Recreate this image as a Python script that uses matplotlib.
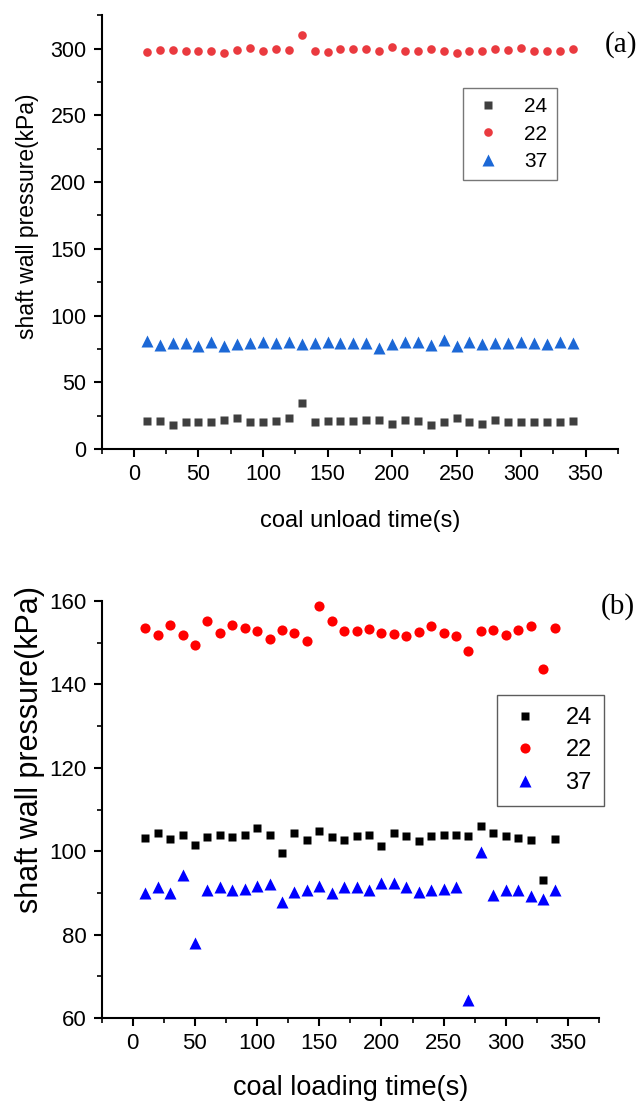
import numpy as np
import matplotlib.pyplot as plt
from matplotlib.ticker import MultipleLocator

plt.rcParams['font.family'] = ['Liberation Sans', 'DejaVu Sans']

# time axis (s), shared by both panels
time_s = list(range(10, 350, 10))

# (a) coal unloading
unload_24 = [20.8, 21.0, 18.3, 20.0, 20.5, 20.5, 21.5, 23.5, 20.3, 20.3, 21.3, 23.0, 34.5, 20.5, 21.0, 21.0, 21.0,
             21.5, 21.5, 19.0, 22.0, 21.0, 18.0, 20.5, 23.0, 20.0, 19.0, 22.0, 20.3, 20.5, 20.0, 20.3, 20.3, 21.3]
unload_22 = [297.5, 299.0, 298.8, 297.8, 298.3, 298.3, 296.5, 299.0, 300.5, 298.3, 299.5, 298.8, 310.5, 297.9, 297.5, 299.5, 299.5,
             299.8, 298.3, 301.5, 298.5, 297.8, 299.5, 297.8, 296.5, 297.8, 297.9, 300.0, 299.0, 300.5, 298.3, 297.8, 297.9, 300.0]
unload_37 = [81.0, 78.0, 79.3, 79.3, 77.5, 80.0, 77.5, 78.8, 79.3, 79.8, 79.3, 80.5, 78.5, 79.3, 79.8, 79.3, 79.3,
             79.3, 75.5, 78.8, 80.3, 79.8, 78.0, 81.3, 77.0, 79.8, 78.8, 79.3, 79.3, 80.3, 79.3, 78.8, 80.3, 79.3]

# (b) coal loading
load_24 = [103.1, 104.3, 103.0, 104.0, 101.6, 103.4, 104.0, 103.4, 104.0, 105.6, 103.9, 99.6, 104.3, 102.6, 104.9, 103.4, 102.6,
           103.6, 103.9, 101.2, 104.4, 103.6, 102.4, 103.6, 104.0, 104.0, 103.6, 106.0, 104.3, 103.6, 103.1, 102.6, 93.2, 103.0]
load_22 = [153.5, 151.9, 154.2, 151.9, 149.4, 155.2, 152.4, 154.2, 153.5, 152.8, 150.8, 153.0, 152.4, 150.3, 158.8, 155.2, 152.8,
           152.8, 153.2, 152.4, 152.2, 151.7, 152.6, 153.9, 152.4, 151.5, 148.0, 152.8, 153.0, 151.8, 153.0, 153.9, 143.8, 153.6]
load_37 = [90.0, 91.4, 90.0, 94.2, 78.0, 90.8, 91.4, 90.8, 91.0, 91.6, 92.2, 87.8, 90.2, 90.6, 91.6, 90.0, 91.4,
           91.4, 90.6, 92.4, 92.4, 91.4, 90.2, 90.6, 91.0, 91.4, 64.4, 99.8, 89.4, 90.6, 90.6, 89.2, 88.6, 90.6]

series_names = ['24', '22', '37']


def style_axes(ax, tick_size):
    ax.spines['top'].set_visible(False)
    ax.spines['right'].set_visible(False)
    for s in ('left', 'bottom'):
        ax.spines[s].set_linewidth(1.5)
    ax.tick_params(which='major', direction='out', length=6, width=1.5, labelsize=tick_size, pad=5)
    ax.tick_params(which='minor', direction='out', length=3.5, width=1.2)
    ax.xaxis.set_major_locator(MultipleLocator(50))
    ax.xaxis.set_minor_locator(MultipleLocator(25))
    ax.set_xlim(-25, 375)


fig = plt.figure(figsize=(6.42, 11.01), dpi=100)

# panel (a)
ax1 = fig.add_axes([0.1584, 0.5922, 0.804, 0.394])
ax1.plot(time_s, unload_24, 's', color='#3f3f3f', ms=5.3, mec='none', label=series_names[0])
ax1.plot(time_s, unload_22, 'o', color='#ea3a3f', ms=6.2, mec='none', label=series_names[1])
ax1.plot(time_s, unload_37, '^', color='#1c68d6', ms=8, mec='none', label=series_names[2])
style_axes(ax1, 15.5)
ax1.set_ylim(0, 325)
ax1.yaxis.set_major_locator(MultipleLocator(50))
ax1.yaxis.set_minor_locator(MultipleLocator(25))
ax1.set_xlabel('coal unload time(s)', fontsize=17, labelpad=18)
ax1.set_ylabel('shaft wall pressure(kPa)', fontsize=16.5)
ax1.yaxis.set_label_coords(-0.122, 0.537)
leg1 = ax1.legend(loc='upper left', bbox_to_anchor=(463 / 642, 1 - 88 / 1101), bbox_transform=fig.transFigure,
                  fontsize=15, frameon=True, fancybox=False, borderpad=0.45, labelspacing=0.4, handletextpad=1.0,
                  handlelength=1.5, borderaxespad=0)
leg1.get_frame().set_edgecolor('#555555')
leg1.get_frame().set_linewidth(1.0)
fig.text(621 / 642, 1 - 45 / 1101, '(a)', family='Liberation Serif', fontsize=21, ha='center', va='center')

# panel (b)
ax2 = fig.add_axes([0.1584, 0.0754, 0.7746, 0.3787])
ax2.plot(time_s, load_24, 's', color='black', ms=5.5, mec='none', label=series_names[0])
ax2.plot(time_s, load_22, 'o', color='#ff0000', ms=7.3, mec='none', label=series_names[1])
ax2.plot(time_s, load_37, '^', color='#0000ff', ms=9, mec='none', label=series_names[2])
style_axes(ax2, 16)
ax2.set_ylim(60, 160)
ax2.yaxis.set_major_locator(MultipleLocator(20))
ax2.yaxis.set_minor_locator(MultipleLocator(10))
ax2.set_xlabel('coal loading time(s)', fontsize=19.5, labelpad=15)
ax2.set_ylabel('shaft wall pressure(kPa)', fontsize=22)
ax2.yaxis.set_label_coords(-0.113, 0.645)
leg2 = ax2.legend(loc='upper left', bbox_to_anchor=(497 / 642, 1 - 695 / 1101), bbox_transform=fig.transFigure,
                  fontsize=17, frameon=True, fancybox=False, borderpad=0.5, labelspacing=0.45, handletextpad=1.0,
                  handlelength=1.4, borderaxespad=0)
leg2.get_frame().set_edgecolor('#333333')
leg2.get_frame().set_linewidth(1.0)
fig.text(618 / 642, 1 - 607 / 1101, '(b)', family='Liberation Serif', fontsize=21, ha='center', va='center')

plt.savefig('out.png', dpi=100)
